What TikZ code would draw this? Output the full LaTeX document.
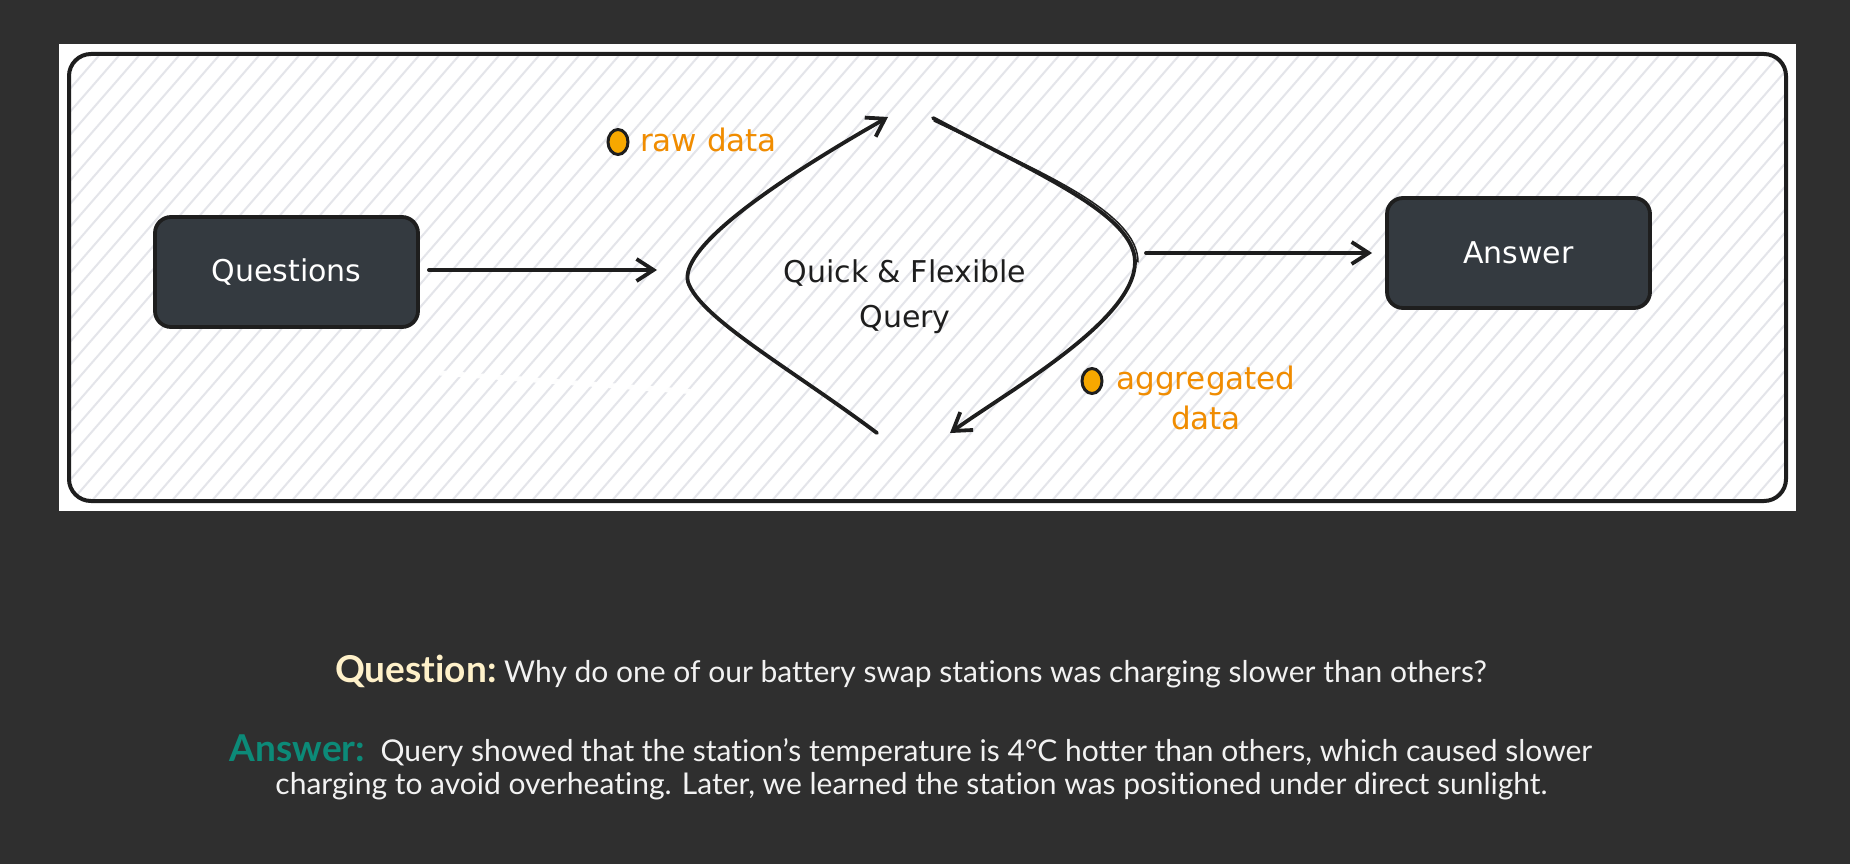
\documentclass[tikz,border=0pt]{standalone}
\usepackage{fontspec}
\setmainfont{Lato}[Ligatures=NoCommon]
\newfontfamily\hand{DejaVu Sans}
\usetikzlibrary{arrows.meta,shapes.geometric}
\definecolor{bg}{HTML}{2F2F2F}
\definecolor{boxfill}{HTML}{343A40}
\definecolor{ink}{HTML}{1E1E1E}
\definecolor{lblorange}{HTML}{F08C00}
\definecolor{dotfill}{HTML}{F7A800}
\definecolor{hatchcol}{HTML}{E4E5EA}
\definecolor{cream}{HTML}{FFF1C9}
\definecolor{tealans}{HTML}{0C8A78}
\definecolor{bodytxt}{HTML}{F2F2F2}
\tikzset{
  darkbox/.style={draw=ink, line width=3.8pt, fill=boxfill, rounded corners=16pt,
    minimum width=263pt, minimum height=110pt, text=white,
    font=\hand\fontsize{30}{36}\selectfont},
  stroke/.style={draw=ink, line width=3.8pt, line cap=round, line join=round},
  arr/.style={stroke, -{Straight Barb[length=17pt,width=22pt]}},
  hatchline/.style={draw=hatchcol, line width=2pt},
  orangelbl/.style={text=lblorange, font=\hand\fontsize{31}{38}\selectfont, inner sep=0pt},
  dotmark/.style={draw=ink, line width=3pt, fill=dotfill, ellipse},
  bodyline/.style={text=bodytxt, font=\fontsize{30}{36}\selectfont, inner sep=0pt, anchor=base}
}
\begin{document}
\begin{tikzpicture}[x=1pt,y=-1pt]
\useasboundingbox (0,0) rectangle (1850,864);
\fill[bg] (0,0) rectangle (1850,864);
% white panel
\fill[white] (59,44) rectangle (1796,511);
% hatching
\begin{scope}
  \clip[rounded corners=22pt] (69,54) rectangle (1786,501);
  \foreach \i in {0,...,106} {
    \draw[hatchline] ({-330+\i*20},503) -- ++(392,-451);
  }
\end{scope}
% faint white smudge
\draw[white, line width=5pt, opacity=0.95] (440,373) -- (697,392);
% frame
\draw[draw=ink, line width=4pt, rounded corners=22pt] (69,54) rectangle (1786,501);

% nodes
\node[darkbox] (q) at (286.5,272) {Questions};
\node[darkbox] (a) at (1518.5,253) {Answer};
\node[align=center, text=ink, font=\hand\fontsize{30}{45}\selectfont] (qf) at (905,297) {Quick \& Flexible\\Query};

% coordinates
\coordinate (qin) at (657,270);
\coordinate (qout) at (1146,253);
\coordinate (lb) at (877,433);
\coordinate (lt) at (888,117);
\coordinate (rt) at (933,118);
\coordinate (rb) at (950,433);

% connectors
\draw[arr] ([xshift=9pt,yshift=2pt]q.east) -- (qin);
\draw[arr] (qout) -- ([xshift=-13pt]a.west);
\draw[arr] (lb) .. controls (790,368) and (700,318) .. (688,282)
               .. controls (680,250) and (760,190) .. (lt);
\draw[arr] (rt) .. controls (1040,175) and (1135,215) .. (1135,262)
               .. controls (1135,320) and (1010,390) .. (rb);
\draw[draw=ink, line width=1.5pt, line cap=round] ([shift={(1pt,-3pt)}]rt) .. controls (1041,172) and (1138,212) .. (1138,262);

% labels
\node[dotmark, minimum width=20pt, minimum height=25pt, inner sep=0pt] (d1) at (618,142) {};
\node[orangelbl, anchor=west] (raw) at (640,140) {raw data};
\node[dotmark, minimum width=20pt, minimum height=25pt, inner sep=0pt] (d2) at (1092,381) {};
\node[orangelbl, align=center, font=\hand\fontsize{31}{40}\selectfont] (agg) at (1206,398) {aggregated\\data};

% bottom text
\node[bodyline] (qline) at (911,682) {\textcolor{cream}{\fontsize{37}{40}\selectfont\bfseries Question:}\ Why do one of our battery swap stations was charging slower than others?};
\node[bodyline] (aline1) at (911,761) {\textcolor{tealans}{\fontsize{37}{40}\selectfont\bfseries Answer:}\ \ Query showed that the station’s temperature is 4°C hotter than others, which caused slower};
\node[bodyline] (aline2) at (911.5,794) {charging to avoid overheating. Later, we learned the station was positioned under direct sunlight.};
\end{tikzpicture}
\end{document}
